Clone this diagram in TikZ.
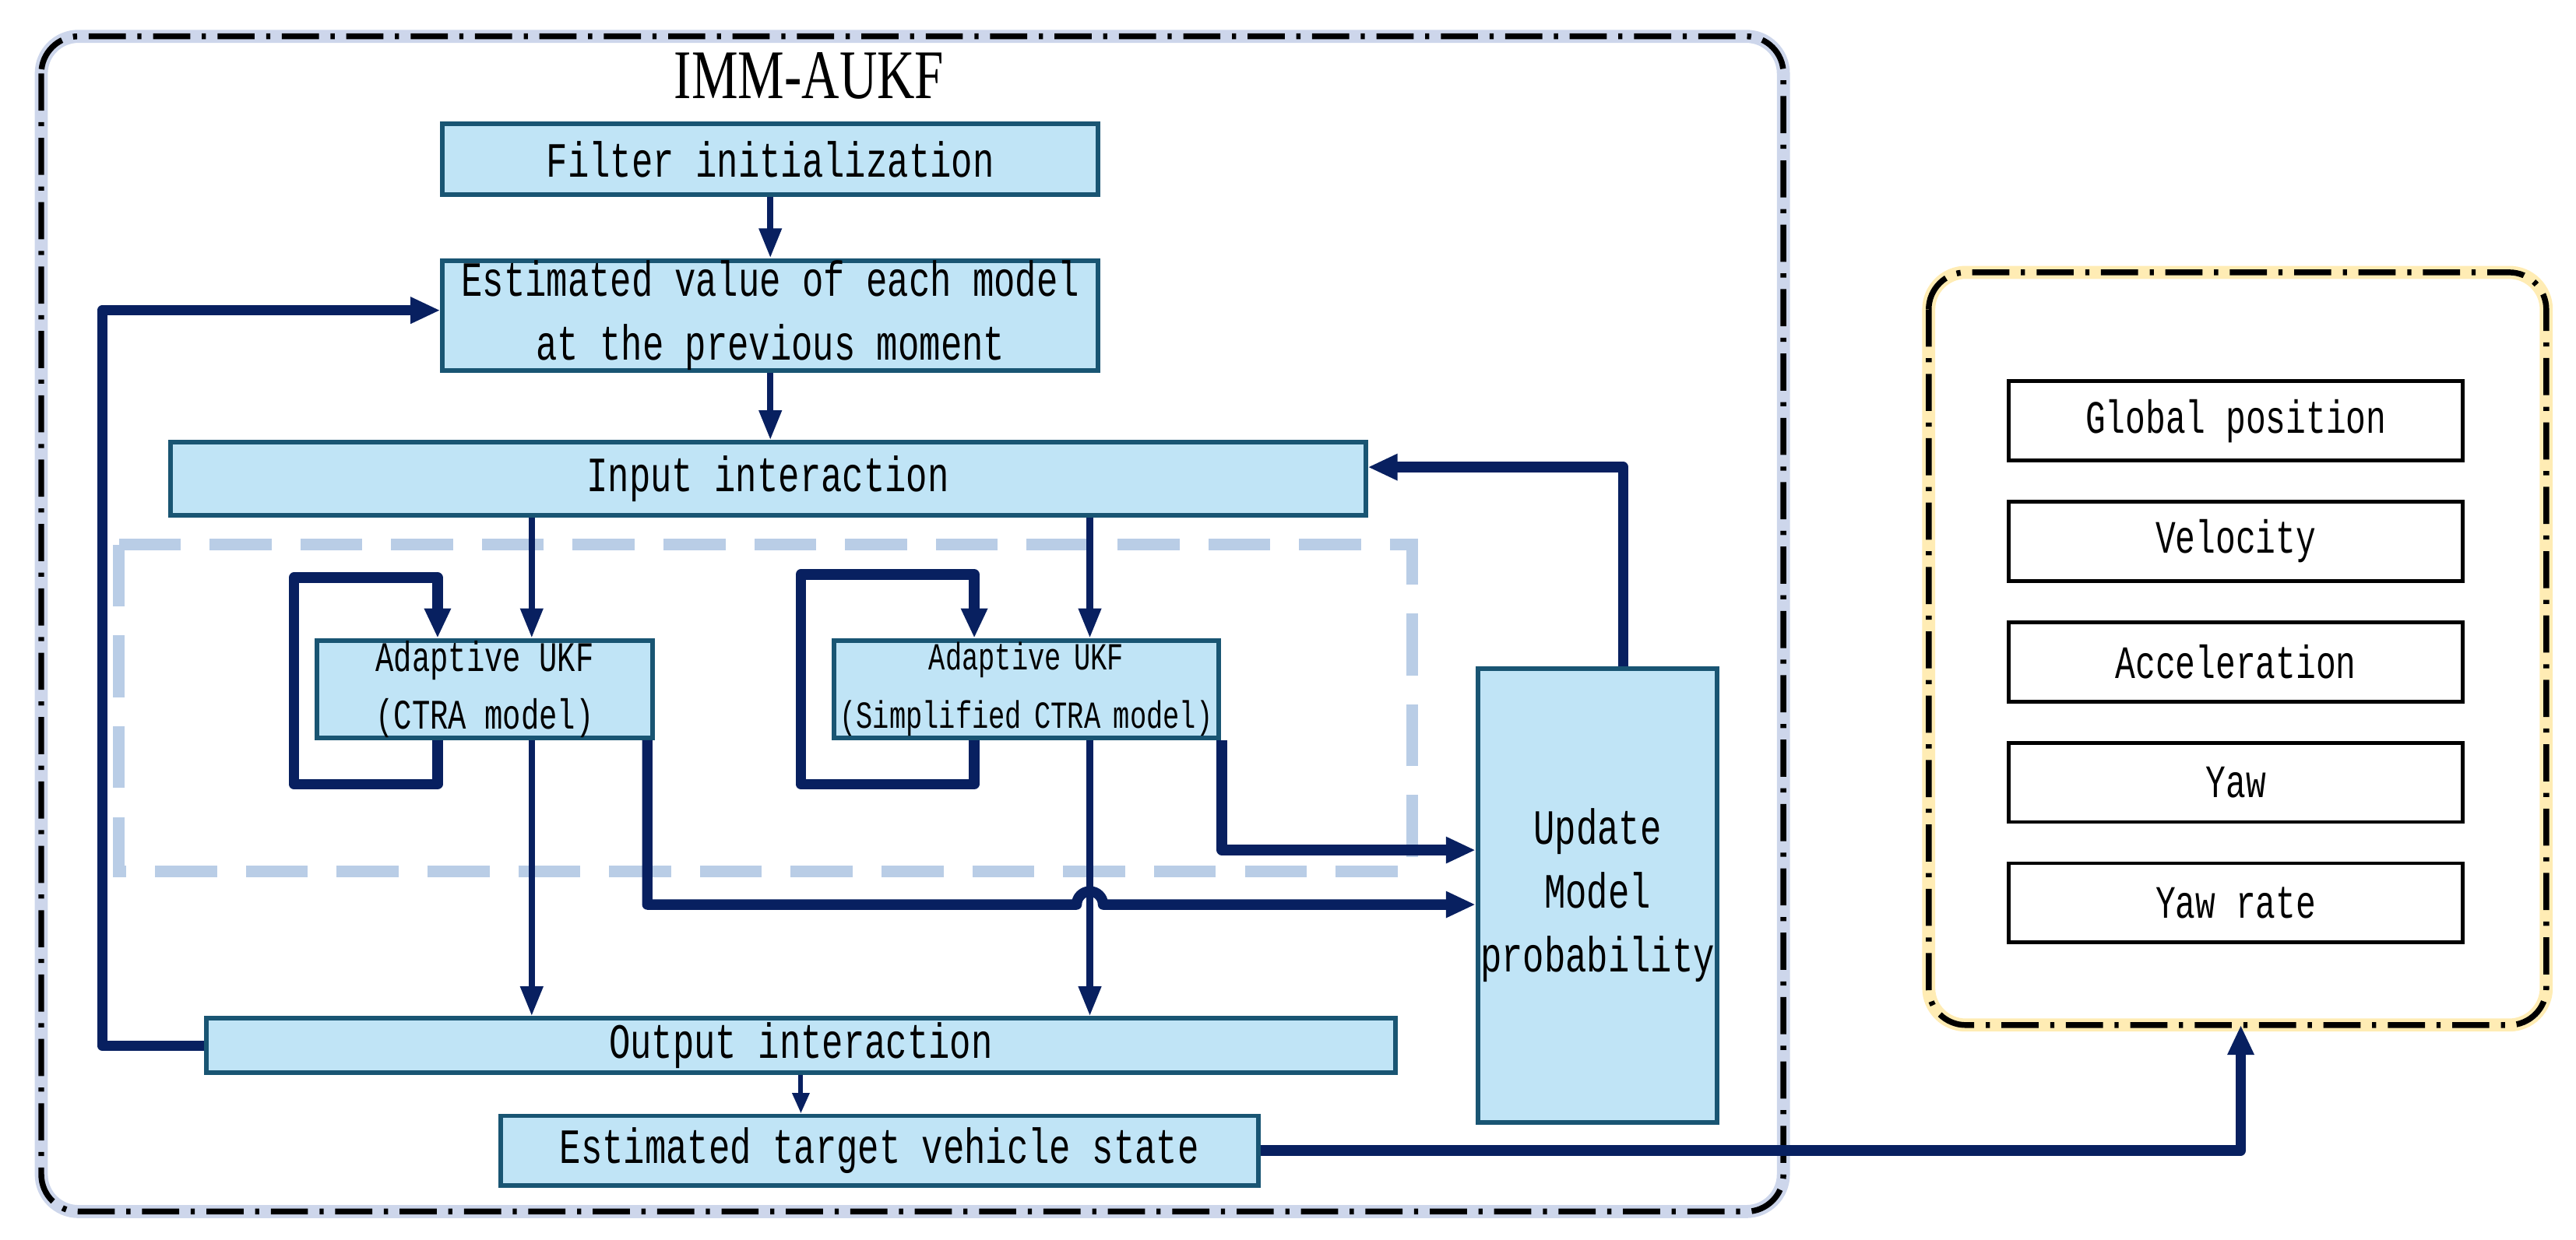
\documentclass[tikz,border=0pt]{standalone}
\usepackage{fontspec}
\setmainfont{Liberation Serif}
\setmonofont[FakeStretch=0.72]{Liberation Mono}
\newfontfamily\titlef[FakeStretch=0.75]{Liberation Serif}
\usetikzlibrary{arrows.meta,calc}
\definecolor{navy}{RGB}{8,32,96}
\definecolor{boxfill}{RGB}{192,228,246}
\definecolor{boxdraw}{RGB}{25,85,115}
\definecolor{dashblue}{RGB}{185,205,230}
\definecolor{glowblue}{RGB}{205,214,235}
\definecolor{glowyel}{RGB}{255,236,180}
\begin{document}
\begin{tikzpicture}[x=0.02cm,y=-0.02cm,
  box/.style={draw=boxdraw,fill=boxfill,line width=1.6pt,align=center,inner sep=0pt,font=\ttfamily\fontsize{17}{22}\selectfont},
  wbox/.style={draw=black,line width=1.3pt,fill=white,minimum width=5.5cm,minimum height=0.96cm,inner sep=0pt,font=\ttfamily\fontsize{16}{20}\selectfont},
  thin/.style={navy,line width=2.2pt,-{Triangle[length=0.36cm,width=0.26cm]}},
  thick/.style={navy,line width=3.6pt,-{Triangle[length=0.36cm,width=0.3cm]},line join=round},
  dd/.style={black,line width=2pt,dash pattern=on 0.45cm off 0.14cm on 0.05cm off 0.14cm},
]
\useasboundingbox (0,0) rectangle (1560,751);
% outer containers
\draw[glowblue,line width=4.5pt,rounded corners=0.45cm] (25,22) rectangle (1080,734);
\draw[dd,rounded corners=0.45cm] (25,22) rectangle (1080,734);
\draw[glowyel,line width=4.5pt,rounded corners=0.45cm] (1168,165) rectangle (1542,621);
\draw[dd,rounded corners=0.45cm] (1168,165) rectangle (1542,621);
\node[font=\titlef\fontsize{24}{28}\selectfont] (title) at (490,46) {IMM-AUKF};
% dashed group
\draw[dashblue,line width=4pt,dash pattern=on 0.75cm off 0.35cm] (72,330) rectangle (855,528);
% boxes
\node[box,minimum width=7.94cm,minimum height=0.86cm] (fi) at (466.5,96.5) {Filter initialization};
\node[box,minimum width=7.94cm,minimum height=1.24cm] (ev) at (466.5,191) {Estimated value of each model\\at the previous moment};
\node[box,minimum width=14.48cm,minimum height=0.88cm] (ii) at (465,290) {Input interaction};
\node[box,minimum width=4.06cm,minimum height=1.18cm,font=\ttfamily\fontsize{14.5}{20}\selectfont] (c1) at (293.5,417.5) {Adaptive UKF\\(CTRA model)};
\node[box,minimum width=4.66cm,minimum height=1.18cm,text width=4.6cm,font=\ttfamily\fontsize{13.2}{20}\selectfont] (c2) at (621.5,417.5) {Adaptive UKF\\(Simplified CTRA model)};
\node[box,minimum width=2.9cm,minimum height=5.5cm] (up) at (967.5,542.5) {Update\\Model\\probability};
\node[box,minimum width=14.4cm,minimum height=0.66cm] (oi) at (485,633.5) {Output interaction};
\node[box,minimum width=9.18cm,minimum height=0.84cm] (ts) at (532.5,697) {Estimated target vehicle state};
% right items
\node[wbox] (gp) at (1354,255) {Global position};
\node[wbox] (ve) at (1354,328) {Velocity};
\node[wbox] (ac) at (1354,401) {Acceleration};
\node[wbox] (ya) at (1354,474) {Yaw};
\node[wbox] (yr) at (1354,547) {Yaw rate};
\coordinate (rb) at (1357,621);
% connectors
\draw[thin] (fi.south) -- (ev.north);
\draw[thin] (ev.south) -- (ii.north -| ev.south);
\draw[thick] (oi.west) -- (62,633.5) -- (62,188) -- (ev.west |- 0,188);
\draw[thick] (up.north -| 983,0) -- (983,283) -- (ii.east |- 0,283);
\draw[thin] (ii.south -| 322,0) -- (c1.north -| 322,0);
\draw[thin] (ii.south -| 660,0) -- (c2.north -| 660,0);
\draw[thick] (c1.south -| 265,0) -- (265,475) -- (178,475) -- (178,350) -- (265,350) -- (c1.north -| 265,0);
\draw[thick] (c2.south -| 590,0) -- (590,475) -- (485,475) -- (485,348) -- (590,348) -- (c2.north -| 590,0);
\draw[thin] (c1.south -| 322,0) -- (oi.north -| 322,0);
\draw[thin] (c2.south -| 660,0) -- (oi.north -| 660,0);
\draw[thick] (c1.south -| 392,0) -- (392,548) -- (652,548) arc[start angle=180,end angle=0,radius=0.16cm] -- (up.west |- 0,548);
\draw[thick] (c2.south -| 740,0) -- (740,515) -- (up.west |- 0,515);
\draw[thin,line width=1.6pt,-{Triangle[length=0.25cm,width=0.2cm]}] (oi.south -| 485,0) -- (ts.north -| 485,0);
\draw[thick] (ts.east) -- (1357,697) -- (rb);
\end{tikzpicture}
\end{document}
